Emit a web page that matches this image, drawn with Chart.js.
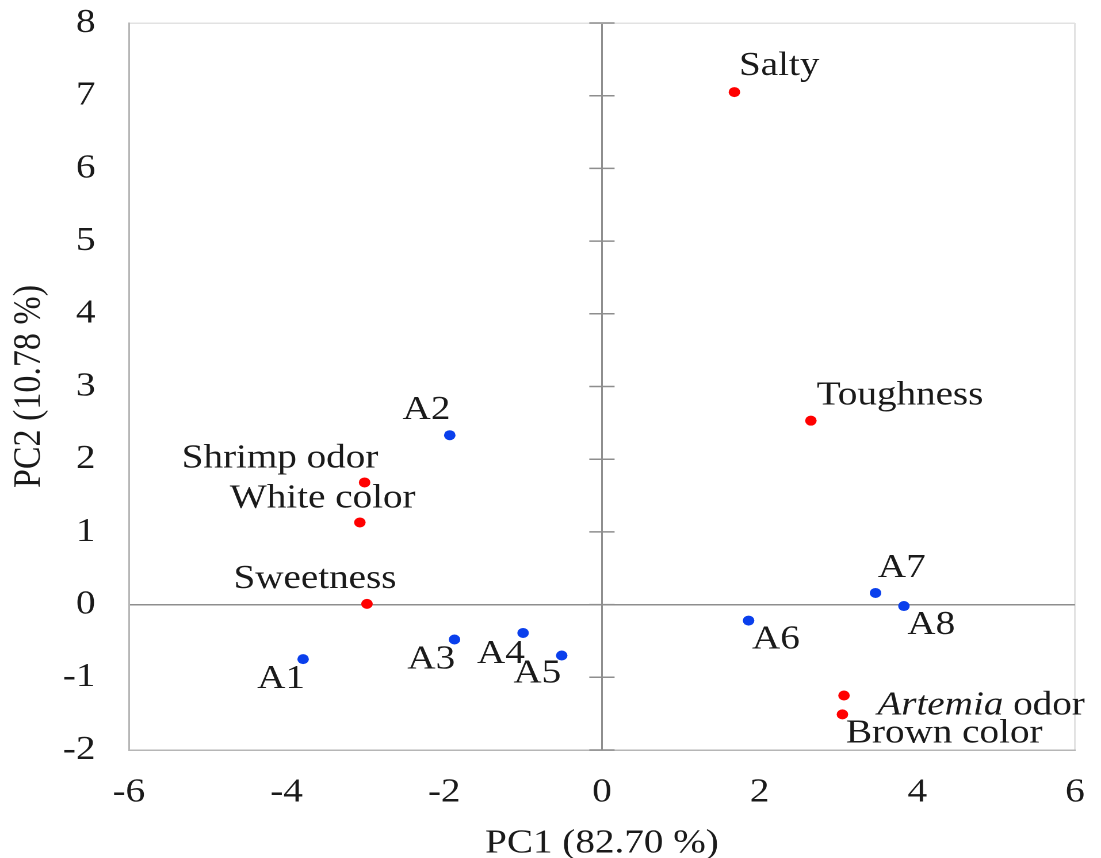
<!DOCTYPE html>
<html>
<head>
<meta charset="utf-8">
<script src="https://cdn.jsdelivr.net/npm/chart.js@4"></script>
<style>
  body { margin: 0; background: #fff; }
</style>
</head>
<body>
<!-- drawn at 957 wide then stretched to 1101, like the original figure -->
<canvas id="chart" width="957" height="858" style="display:block;width:1101px;height:858px"></canvas>
<script>
// sensory attributes (red)
const attrNames = ['Salty', 'Toughness', 'Shrimp odor', 'White color', 'Sweetness', 'Artemia odor', 'Brown color']
const attrPC1 = [1.68, 2.65, -3.01, -3.07, -2.98, 3.07, 3.05]
const attrPC2 = [7.05, 2.53, 1.68, 1.13, 0.01, -1.25, -1.51]

// samples (blue)
const sampleNames = ['A1', 'A2', 'A3', 'A4', 'A5', 'A6', 'A7', 'A8']
const samplePC1 = [-3.79, -1.93, -1.87, -1.00, -0.51, 1.86, 3.47, 3.83]
const samplePC2 = [-0.75, 2.33, -0.48, -0.39, -0.70, -0.22, 0.16, -0.02]

const xMin = -6, xMax = 6, xStep = 2
const yMin = -2, yMax = 8, yStep = 1
const xTitle = 'PC1 (82.70 %)'
const yTitle = 'PC2 (10.78 %)'

// where each label sits next to its dot (px, left edge / baseline)
const attrLabelPos = [[4, -17], [5, -16], [-159, -15], [-113, -15], [-116, -16], [29, 19], [3, 28]]
const sampleLabelPos = [[-40, 29], [-41, -16], [-41, 29], [-40, 30], [-42, 27], [3, 28], [2, -16], [3, 28]]

const fontFamily = '"Liberation Serif", "Times New Roman", serif'
const textColor = '#1a1a1a'
const zeroColor = '#8e8e8e'
const edgeColor = '#e2e2e2'
const axisColor = '#b6b6b6'

let toPoints = (xs, ys) => xs.map((v, i) => ({x: v, y: ys[i]}))

const pointLabels = {
  id: 'pointLabels',
  afterDatasetsDraw(chart) {
    const ctx = chart.ctx
    const sets = [
      {names: attrNames, pos: attrLabelPos},
      {names: sampleNames, pos: sampleLabelPos}
    ]
    ctx.save()
    ctx.fillStyle = textColor
    ctx.textBaseline = 'alphabetic'
    ctx.textAlign = 'left'
    sets.forEach((s, di) => {
      chart.getDatasetMeta(di).data.forEach((pt, i) => {
        let x = pt.x + s.pos[i][0]
        let y = pt.y + s.pos[i][1]
        let name = s.names[i]
        if (name.startsWith('Artemia')) {
          ctx.font = 'italic 34px ' + fontFamily
          ctx.fillText('Artemia', x, y)
          x += ctx.measureText('Artemia').width
          name = name.slice(7)
        }
        ctx.font = '34px ' + fontFamily
        ctx.fillText(name, x, y)
      })
    })
    ctx.restore()
  }
}

// little cross ticks on the vertical zero line
const zeroTicks = {
  id: 'zeroTicks',
  beforeDatasetsDraw(chart) {
    const ctx = chart.ctx
    const xs = chart.scales.x, ys = chart.scales.y
    const x0 = xs.getPixelForValue(0)
    ctx.save()
    ctx.strokeStyle = zeroColor
    ctx.lineWidth = 1.5
    ys.ticks.forEach(t => {
      const y = ys.getPixelForValue(t.value)
      ctx.beginPath()
      ctx.moveTo(x0 - 11, y)
      ctx.lineTo(x0 + 11, y)
      ctx.stroke()
    })
    ctx.restore()
  }
}

new Chart(document.getElementById('chart'), {
  type: 'scatter',
  data: {
    datasets: [
      {
        label: 'Attributes',
        data: toPoints(attrPC1, attrPC2),
        backgroundColor: '#ff0000',
        borderWidth: 0,
        pointRadius: 5,
        pointHoverRadius: 5
      },
      {
        label: 'Samples',
        data: toPoints(samplePC1, samplePC2),
        backgroundColor: '#0a3fec',
        borderWidth: 0,
        pointRadius: 5,
        pointHoverRadius: 5
      }
    ]
  },
  options: {
    responsive: false,
    devicePixelRatio: 2,
    animation: false,
    layout: { padding: { left: 0, right: 22.6, top: 23, bottom: 0 } },
    plugins: {
      legend: { display: false },
      tooltip: { enabled: false }
    },
    scales: {
      x: {
        type: 'linear',
        min: xMin, max: xMax,
        afterFit: s => { s.height = 108; s.paddingLeft = 0; s.paddingRight = 0 },
        ticks: {
          stepSize: xStep,
          padding: 22,
          color: textColor,
          font: { family: fontFamily, size: 34 }
        },
        grid: {
          drawTicks: false,
          lineWidth: 1.5,
          color: c => c.tick.value === 0 ? zeroColor : (c.tick.value === xMax ? edgeColor : 'transparent')
        },
        border: { display: true, color: axisColor, width: 1.5 },
        title: {
          display: true,
          text: xTitle,
          color: textColor,
          padding: { top: 0, bottom: 0 },
          font: { family: fontFamily, size: 34, lineHeight: 0.85 }
        }
      },
      y: {
        type: 'linear',
        min: yMin, max: yMax,
        afterFit: s => { s.width = 112; s.paddingTop = 0; s.paddingBottom = 0 },
        ticks: {
          stepSize: yStep,
          padding: 29,
          color: textColor,
          font: { family: fontFamily, size: 34 }
        },
        grid: {
          drawTicks: false,
          lineWidth: 1.5,
          color: c => c.tick.value === 0 ? zeroColor : (c.tick.value === yMax ? edgeColor : 'transparent')
        },
        border: { display: true, color: axisColor, width: 1.5 },
        title: {
          display: true,
          text: yTitle,
          color: textColor,
          padding: { top: 5, bottom: 0 },
          font: { family: fontFamily, size: 34 }
        }
      }
    }
  },
  plugins: [zeroTicks, pointLabels]
})
</script>
</body>
</html>
